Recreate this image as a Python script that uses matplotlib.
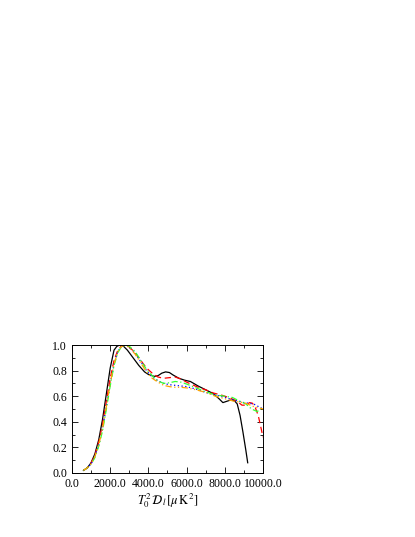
import matplotlib
matplotlib.use("Agg")
import matplotlib.pyplot as plt
from matplotlib.ticker import MultipleLocator, FormatStrFormatter

plt.rcParams['font.family'] = ['Liberation Serif', 'DejaVu Serif']
plt.rcParams['mathtext.fontset'] = 'stix'

# black solid
x_black = [600, 800, 1000, 1200, 1400, 1600, 1800, 2000, 2200, 2350, 2500, 2700, 2900, 3200, 3500, 3800, 4000, 4300, 4500, 4700, 4900, 5100, 5300, 5600, 5900, 6200, 6600, 7000, 7400, 7700, 7900, 8100, 8300, 8500, 8650, 8800, 8950, 9100, 9200]
y_black = [0.02, 0.04, 0.08, 0.15, 0.26, 0.42, 0.62, 0.82, 0.96, 0.99, 1.00, 0.99, 0.96, 0.90, 0.84, 0.79, 0.77, 0.755, 0.76, 0.78, 0.79, 0.785, 0.765, 0.74, 0.725, 0.715, 0.68, 0.65, 0.62, 0.58, 0.55, 0.56, 0.57, 0.565, 0.54, 0.45, 0.32, 0.18, 0.08]

# red dashed
x_red = [600, 800, 1000, 1200, 1400, 1600, 1800, 2000, 2200, 2400, 2600, 2800, 3000, 3300, 3600, 3900, 4200, 4500, 4800, 5100, 5400, 5700, 6000, 6300, 6600, 7000, 7400, 7800, 8200, 8600, 8900, 9100, 9300, 9450, 9600, 9750, 9900, 10000]
y_red = [0.02, 0.04, 0.08, 0.14, 0.24, 0.38, 0.56, 0.74, 0.88, 0.96, 0.995, 1.00, 0.985, 0.94, 0.88, 0.82, 0.78, 0.75, 0.74, 0.745, 0.75, 0.735, 0.71, 0.69, 0.67, 0.65, 0.625, 0.61, 0.59, 0.565, 0.53, 0.53, 0.55, 0.545, 0.51, 0.45, 0.35, 0.28]

# blue dotted
x_blue = [600, 800, 1000, 1200, 1400, 1600, 1800, 2000, 2200, 2400, 2600, 2800, 3000, 3300, 3600, 3900, 4200, 4500, 4800, 5100, 5400, 5700, 6000, 6500, 7000, 7500, 8000, 8500, 9000, 9500, 10000]
y_blue = [0.02, 0.04, 0.07, 0.13, 0.22, 0.35, 0.52, 0.70, 0.85, 0.95, 0.99, 1.00, 0.985, 0.94, 0.87, 0.80, 0.75, 0.72, 0.70, 0.69, 0.685, 0.68, 0.675, 0.655, 0.63, 0.61, 0.59, 0.57, 0.55, 0.54, 0.50]

# green dash-dot
x_green = [600, 800, 1000, 1200, 1400, 1600, 1800, 2000, 2200, 2400, 2600, 2800, 3000, 3300, 3600, 3900, 4200, 4500, 4800, 5100, 5400, 5700, 6000, 6500, 7000, 7500, 8000, 8400, 8800, 9100, 9400, 9700, 10000]
y_green = [0.02, 0.04, 0.07, 0.12, 0.21, 0.33, 0.50, 0.68, 0.84, 0.94, 0.99, 1.00, 0.99, 0.95, 0.88, 0.81, 0.76, 0.72, 0.70, 0.705, 0.715, 0.71, 0.695, 0.665, 0.635, 0.61, 0.60, 0.59, 0.56, 0.54, 0.50, 0.48, 0.52]

# orange dash-dot-dot
x_orange = [600, 800, 1000, 1200, 1400, 1600, 1800, 2000, 2200, 2400, 2600, 2800, 3000, 3300, 3600, 3900, 4200, 4500, 4800, 5100, 5400, 5700, 6000, 6500, 7000, 7500, 8000, 8500, 9000, 9500, 10000]
y_orange = [0.02, 0.04, 0.07, 0.13, 0.22, 0.35, 0.52, 0.70, 0.85, 0.95, 0.99, 1.00, 0.98, 0.93, 0.86, 0.79, 0.74, 0.71, 0.685, 0.675, 0.67, 0.67, 0.665, 0.65, 0.63, 0.60, 0.58, 0.56, 0.55, 0.52, 0.50]

fig = plt.figure(figsize=(4.15, 5.37), dpi=100)
ax = fig.add_axes([0.1735, 0.1192, 0.4602, 0.2383])

ax.plot(x_black, y_black, color='black', lw=0.9, ls='-')
ax.plot(x_red, y_red, color='red', lw=0.9, ls=(0, (5, 3)))
ax.plot(x_blue, y_blue, color='blue', lw=0.9, ls=(0, (1, 2)))
ax.plot(x_green, y_green, color='#33ff33', lw=0.9, ls=(0, (5, 2, 1, 2)))
ax.plot(x_orange, y_orange, color='orange', lw=0.9, ls=(0, (5, 2, 1, 2, 1, 2)))

ax.set_xlim(0, 10000)
ax.set_ylim(0, 1.0)
ax.xaxis.set_major_locator(MultipleLocator(2000))
ax.xaxis.set_minor_locator(MultipleLocator(1000))
ax.yaxis.set_major_locator(MultipleLocator(0.2))
ax.yaxis.set_minor_locator(MultipleLocator(0.1))
ax.xaxis.set_major_formatter(FormatStrFormatter('%.1f'))
ax.yaxis.set_major_formatter(FormatStrFormatter('%.1f'))
ax.tick_params(which='both', direction='in', top=True, right=True, labelsize=8.5, width=0.6)
ax.tick_params(which='major', length=4)
ax.tick_params(which='minor', length=2)
for s in ax.spines.values():
    s.set_linewidth(0.7)

ax.set_xlabel(r'$T_0^2\,\mathcal{D}_l\,[\mu\,\mathrm{K}^2]$', fontsize=9, labelpad=1)

fig.savefig('out.png', dpi=100)
